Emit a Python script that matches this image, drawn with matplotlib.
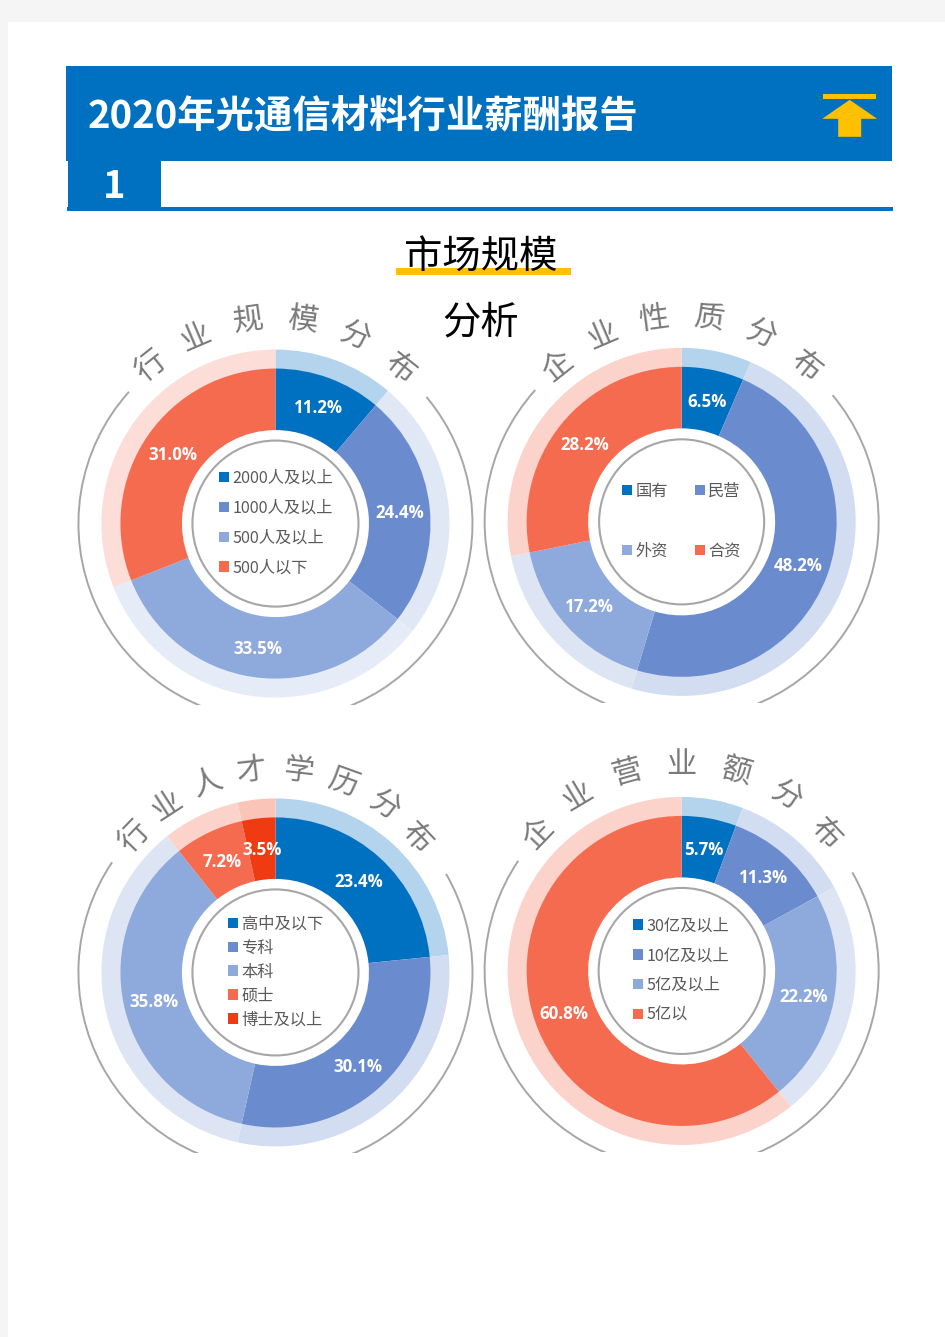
import matplotlib
matplotlib.use("Agg")
import numpy as np
import matplotlib.pyplot as plt
from matplotlib.patches import Rectangle, Polygon, Arc, Circle

plt.rcParams['font.family'] = ['Noto Sans CJK SC', 'DejaVu Sans']

W, H = 945, 1337

# ---------- data ----------
report_title = "2020年光通信材料行业薪酬报告"
section_no = "1"
section_title = ["市场规模", "分析"]

title1 = "行业规模分布"
cats1 = ["2000人及以上", "1000人及以上", "500人及以上", "500人以下"]
vals1 = [11.2, 24.4, 33.5, 31.0]

title2 = "企业性质分布"
cats2 = ["国有", "民营", "外资", "合资"]
vals2 = [6.5, 48.2, 17.2, 28.2]

title3 = "行业人才学历分布"
cats3 = ["高中及以下", "专科", "本科", "硕士", "博士及以上"]
vals3 = [23.4, 30.1, 35.8, 7.2, 3.5]

title4 = "企业营业额分布"
cats4 = ["30亿及以上", "10亿及以上", "5亿及以上", "5亿以"]
vals4 = [5.7, 11.3, 22.2, 60.8]

# ---------- style ----------
BLUE = "#0070C0"
GOLD = "#FFC000"
COL4 = ["#0070C0", "#6A8CCF", "#8EA9DB", "#F46B4F"]
COL5 = ["#0070C0", "#6A8CCF", "#8EA9DB", "#F46B4F", "#EF3A12"]

fig = plt.figure(figsize=((W + 0.2) / 100, (H + 0.2) / 100), dpi=100, facecolor="#F5F5F5")

bg = fig.add_axes([0, 0, 1, 1])
bg.set_xlim(0, W)
bg.set_ylim(H, 0)
bg.axis("off")
bg.add_patch(Rectangle((8, 22), W - 8, H - 22, fc="white", ec="none"))
bg.add_patch(Rectangle((66, 66), 826, 95, fc=BLUE, ec="none"))
bg.add_patch(Rectangle((68, 161), 93, 46, fc=BLUE, ec="none"))
bg.add_patch(Rectangle((67, 207), 826, 4, fc=BLUE, ec="none"))
bg.add_patch(Rectangle((823, 94), 53, 5, fc=GOLD, ec="none"))
bg.add_patch(Polygon([(849.5, 100), (877, 119), (861, 119), (861, 137),
                      (838, 137), (838, 119), (822, 119)], fc=GOLD, ec="none"))
bg.add_patch(Rectangle((396, 268), 175, 7, fc=GOLD, ec="none"))

bg.text(88, 117, report_title, color="white", fontsize=27.6, fontweight="bold",
        ha="left", va="center")
bg.text(114, 186, section_no, color="white", fontsize=27.5, fontweight="bold",
        ha="center", va="center")
bg.text(481, 258, section_title[0], color="black", fontsize=27.6, ha="center", va="center")
bg.text(481, 323, section_title[1], color="black", fontsize=27.6, ha="center", va="center")


def chart(cx, cy, bottom, vals, cats, colors, title, step, rtitle, gap,
          legend_x, pitch, alphas, rcircle=83.0, ncol=1, col_gap=0.0):
    ax = fig.add_axes([(cx - 203) / W, 1 - (cy + bottom) / H, 406 / W, (225 + bottom) / H])
    ax.patch.set_alpha(0)

    rgb = [matplotlib.colors.to_rgb(c) for c in colors]
    pale = [tuple(1 - a * (1 - v) for v in c) for c, a in zip(rgb, alphas)]
    ax.pie(vals, radius=174, startangle=90, counterclock=False, colors=pale,
           normalize=True, wedgeprops=dict(width=19.5, linewidth=0))
    wedges, _ = ax.pie(vals, radius=155, startangle=90, counterclock=False, colors=colors,
                       normalize=True, wedgeprops=dict(width=61.5, linewidth=0))

    for w, v in zip(wedges, vals):
        mid = np.deg2rad((w.theta1 + w.theta2) / 2)
        ax.text(124.5 * np.cos(mid), 124.5 * np.sin(mid) - 1.5, f"{v:.1f}%", color="white",
                fontsize=12.2, fontweight="bold", family=["Open Sans", "DejaVu Sans"],
                ha="center", va="center")

    ax.add_patch(Circle((0, 0), rcircle, fc="none", ec="#A6A6A6", lw=1.5))
    # outer grey arcs either side of the curved title
    ax.add_patch(Arc((0, 0), 394, 394, theta1=-90, theta2=90 - gap[1], ec="#A6A6A6", lw=1.4))
    ax.add_patch(Arc((0, 0), 394, 394, theta1=90 + gap[0], theta2=270, ec="#A6A6A6", lw=1.4))

    n = len(title)
    for i, ch in enumerate(title):
        a = step * (i - (n - 1) / 2)
        ar = np.deg2rad(a)
        r = rtitle - 8 * (a / 46) ** 2
        ax.text(r * np.sin(ar), r * np.cos(ar), ch, color="#7A7A7A", fontsize=21.8,
                rotation=-a, rotation_mode="anchor", ha="center", va="center")

    fs = 11.7
    fpx = fs * 100 / 72
    # legend columns fill top-down, so a two-column legend is handed over column by column
    order = list(range(len(cats)))
    if ncol == 2:
        order = [0, 2, 1, 3]
    ax.legend([wedges[i] for i in order], [cats[i] for i in order], loc="center left",
              bbox_to_anchor=(legend_x, 0.5), bbox_transform=ax.transData, frameon=False,
              borderpad=0, borderaxespad=0, fontsize=fs, labelcolor="#595959",
              handlelength=0.62, handleheight=0.62, handletextpad=0.22,
              labelspacing=(pitch - fpx * 1.05) / fpx, ncol=ncol, columnspacing=col_gap)

    ax.set_xlim(-203, 203)
    ax.set_ylim(-bottom, 225)
    ax.set_aspect("equal")
    ax.axis("off")


chart(275.4, 523.7, 181, vals1, cats1, COL4, title1, 15.4, 205, (48, 50),
      -56.5, 30, [0.3, 0.21, 0.22, 0.23])
chart(681.5, 522, 181, vals2, cats2, COL4, title2, 15.4, 205, (48, 50),
      -59.5, 60, [0.3, 0.3, 0.3, 0.3], rcircle=82.5, ncol=2, col_gap=1.62)
chart(275.4, 972.5, 181, vals3, cats3, COL5, title3, 13.2, 203, (56, 60),
      -47.5, 24, [0.3, 0.3, 0.3, 0.3, 0.3])
chart(681.5, 971, 181, vals4, cats4, COL4, title4, 15.4, 207, (56, 60),
      -48.5, 30, [0.3, 0.3, 0.3, 0.3])

fig.savefig("out.png", dpi=100, facecolor=fig.get_facecolor())
